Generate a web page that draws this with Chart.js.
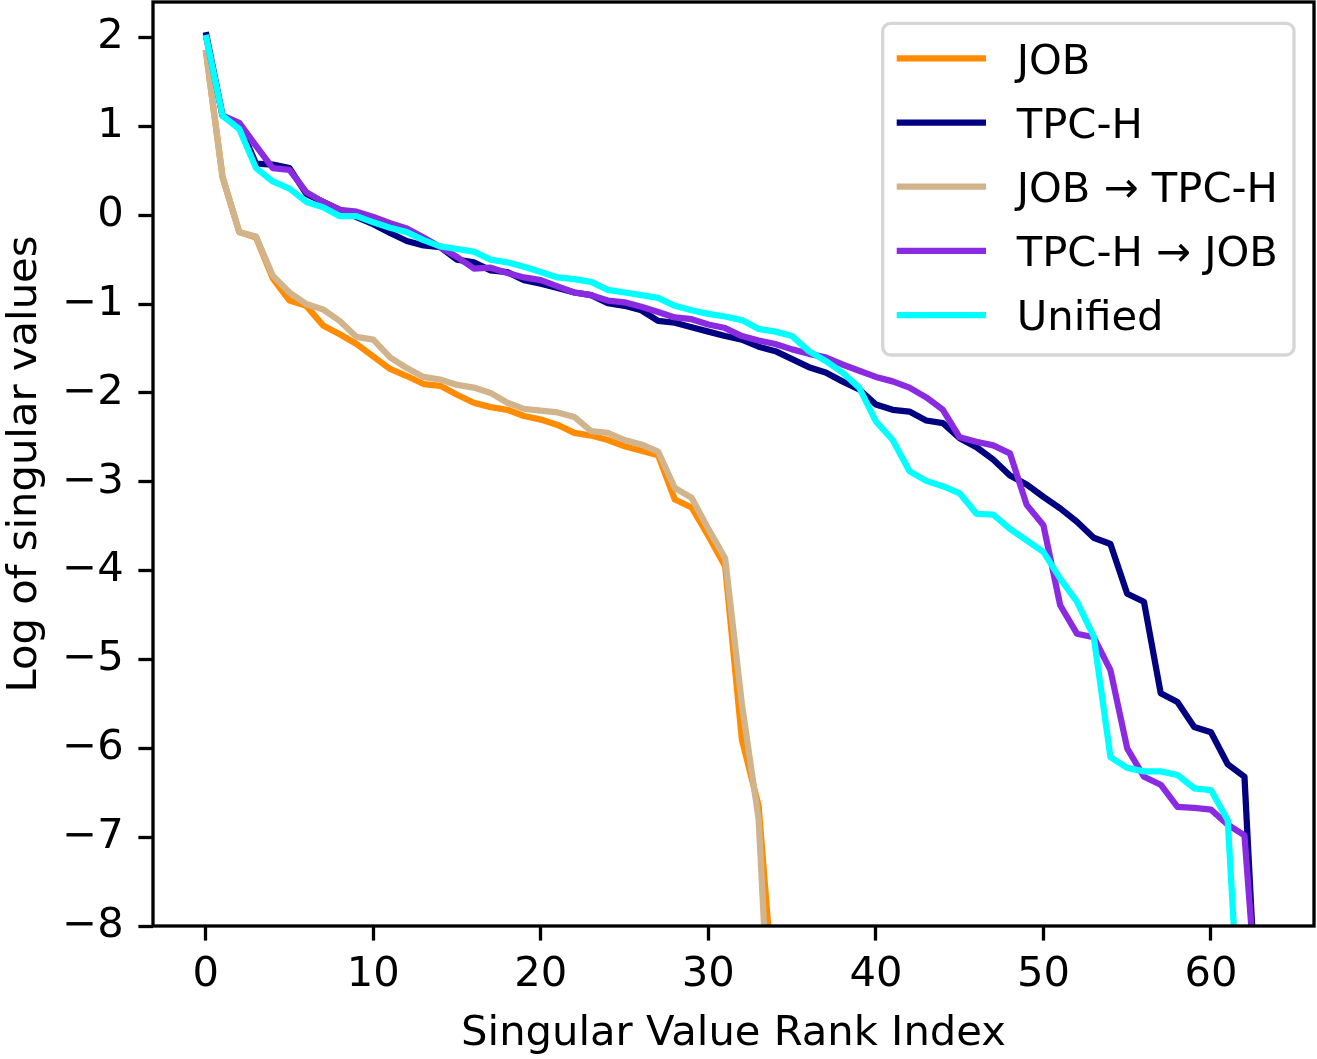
<!DOCTYPE html>
<html>
<head>
<meta charset="utf-8">
<script src="https://cdn.jsdelivr.net/npm/chart.js@4.4.1/dist/chart.umd.min.js"></script>
<style>
  html, body { margin: 0; padding: 0; background: #fff; }
  #wrap { width: 1317px; height: 1059px; }
</style>
</head>
<body>
<div id="wrap"><canvas id="myChart" width="1317" height="1059"></canvas></div>
<script>
// series names and colours
let seriesNames = ['JOB', 'TPC-H', 'JOB \u2192 TPC-H', 'TPC-H \u2192 JOB', 'Unified'];
let seriesColors = ['#ff8c00', '#000080', '#d2b48c', '#8a2be2', '#00ffff'];

// log singular values (index = rank)
let jobVals = [
  1.86, 0.43, -0.19, -0.25, -0.71, -0.96, -1.02, -1.24, -1.34, -1.45,
  -1.59, -1.73, -1.81, -1.90, -1.92, -2.02, -2.11, -2.16, -2.19, -2.26,
  -2.30, -2.36, -2.45, -2.48, -2.53, -2.60, -2.65, -2.70, -3.20, -3.29,
  -3.61, -3.95, -5.90, -6.65, -9.0
];
let tpchVals = [
  2.06, 1.12, 1.02, 0.58, 0.57, 0.53, 0.24, 0.15, 0.06, -0.02,
  -0.10, -0.20, -0.29, -0.34, -0.36, -0.50, -0.53, -0.62, -0.64, -0.73,
  -0.77, -0.82, -0.87, -0.90, -0.99, -1.02, -1.07, -1.19, -1.21, -1.26,
  -1.31, -1.36, -1.40, -1.48, -1.53, -1.62, -1.71, -1.77, -1.87, -1.96,
  -2.13, -2.19, -2.21, -2.31, -2.34, -2.51, -2.61, -2.75, -2.93, -3.03,
  -3.17, -3.30, -3.45, -3.63, -3.70, -4.26, -4.35, -5.38, -5.48, -5.76,
  -5.82, -6.18, -6.32, -10.0
];
let jobToTpchVals = [
  1.86, 0.43, -0.19, -0.24, -0.68, -0.87, -1.00, -1.06, -1.19, -1.37,
  -1.40, -1.60, -1.72, -1.82, -1.85, -1.91, -1.94, -2.00, -2.11, -2.18,
  -2.20, -2.22, -2.27, -2.43, -2.45, -2.53, -2.58, -2.66, -3.07, -3.18,
  -3.53, -3.86, -5.50, -6.80, -10.5
];
let tpchToJobVals = [
  2.03, 1.12, 1.04, 0.78, 0.53, 0.51, 0.26, 0.15, 0.06, 0.04,
  -0.02, -0.09, -0.15, -0.25, -0.36, -0.47, -0.60, -0.59, -0.65, -0.70,
  -0.73, -0.80, -0.87, -0.90, -0.96, -0.98, -1.03, -1.09, -1.15, -1.17,
  -1.23, -1.27, -1.36, -1.41, -1.45, -1.51, -1.56, -1.60, -1.68, -1.75,
  -1.82, -1.87, -1.94, -2.05, -2.19, -2.50, -2.55, -2.59, -2.68, -3.26,
  -3.49, -4.39, -4.71, -4.75, -5.12, -6.00, -6.32, -6.41, -6.66, -6.67,
  -6.69, -6.86, -6.98, -9.5
];
let unifiedVals = [
  2.03, 1.12, 0.97, 0.53, 0.38, 0.30, 0.15, 0.09, -0.01, -0.01,
  -0.08, -0.14, -0.19, -0.28, -0.35, -0.38, -0.41, -0.50, -0.53, -0.58,
  -0.64, -0.70, -0.72, -0.75, -0.84, -0.87, -0.90, -0.93, -1.02, -1.07,
  -1.11, -1.14, -1.18, -1.28, -1.31, -1.36, -1.53, -1.64, -1.77, -1.94,
  -2.32, -2.53, -2.88, -2.99, -3.05, -3.13, -3.36, -3.37, -3.53, -3.66,
  -3.79, -4.09, -4.35, -4.74, -6.10, -6.22, -6.26, -6.26, -6.30, -6.45,
  -6.47, -6.81, -10.1
];

let xTicks = [0, 10, 20, 30, 40, 50, 60];
let yTicks = [-8, -7, -6, -5, -4, -3, -2, -1, 0, 1, 2];

let allVals = [jobVals, tpchVals, jobToTpchVals, tpchToJobVals, unifiedVals];

const FONT = "'DejaVu Sans', sans-serif";
const FS = 41.7;

function toPoints(vals) {
  return vals.map((v, i) => ({ x: i, y: v }));
}

function fmt(v) {
  return v < 0 ? '\u2212' + Math.abs(v) : String(v);
}

// axes box + legend like matplotlib
const framePlugin = {
  id: 'frame',
  afterDraw(chart) {
    const ctx = chart.ctx;
    const a = chart.chartArea;
    ctx.save();
    ctx.strokeStyle = '#000';
    ctx.lineWidth = 3.3;
    ctx.strokeRect(a.left, a.top, a.right - a.left, a.bottom - a.top);

    // legend box
    const bx = 882.7, by = 23.3, bw = 1294 - 882.7, bh = 355 - 23.3;
    ctx.beginPath();
    ctx.roundRect(bx, by, bw, bh, 8);
    ctx.fillStyle = 'rgba(255,255,255,0.8)';
    ctx.fill();
    ctx.strokeStyle = '#d6d6d6';
    ctx.lineWidth = 3.3;
    ctx.stroke();

    ctx.font = FS + 'px ' + FONT;
    ctx.textAlign = 'left';
    ctx.textBaseline = 'alphabetic';
    seriesNames.forEach((name, k) => {
      const cy = 58.3 + k * 64.2;
      ctx.beginPath();
      ctx.moveTo(896.7, cy);
      ctx.lineTo(986, cy);
      ctx.strokeStyle = seriesColors[k];
      ctx.lineWidth = 6.25;
      ctx.lineCap = 'butt';
      ctx.stroke();
      ctx.fillStyle = '#000';
      ctx.fillText(name, 1016.7, cy + 15.2);
    });
    ctx.restore();
  }
};

var chart = document.getElementById('myChart').getContext('2d');
var myChart = new Chart(chart, {
  type: 'line',
  data: {
    datasets: allVals.map((vals, k) => ({
      label: seriesNames[k],
      data: toPoints(vals),
      borderColor: seriesColors[k],
      backgroundColor: seriesColors[k],
      borderWidth: 6.25,
      borderJoinStyle: 'round',
      borderCapStyle: 'butt',
      pointRadius: 0,
      tension: 0,
      fill: false,
      order: allVals.length - k,
    })),
  },
  options: {
    responsive: false,
    animation: false,
    devicePixelRatio: 1,
    layout: { padding: { top: 2, right: 3, left: 0, bottom: 0 } },
    plugins: {
      legend: { display: false },
      tooltip: { enabled: false },
    },
    scales: {
      x: {
        type: 'linear',
        min: -3.15,
        max: 66.15,
        afterBuildTicks: (s) => { s.ticks = xTicks.map(v => ({ value: v })); },
        afterFit: (s) => {
          s.height = 133;
          s.paddingLeft = 0;
          s.paddingRight = 0;
        },
        ticks: {
          font: { family: FONT, size: FS },
          color: '#000',
          padding: 10,
          maxRotation: 0,
          callback: (v) => fmt(v),
        },
        grid: {
          drawOnChartArea: false,
          drawTicks: true,
          tickLength: 14.6,
          tickWidth: 3.3,
          tickColor: '#000',
        },
        border: { display: false },
        title: {
          display: true,
          text: 'Singular Value Rank Index',
          font: { family: FONT, size: FS },
          color: '#000',
          padding: { top: 0, bottom: 0 },
        },
      },
      y: {
        type: 'linear',
        min: -8,
        max: 2.4,
        afterBuildTicks: (s) => { s.ticks = yTicks.map(v => ({ value: v })); },
        afterFit: (s) => {
          s.width = 153;
          s.paddingTop = 0;
          s.paddingBottom = 0;
        },
        ticks: {
          font: { family: FONT, size: FS },
          color: '#000',
          padding: 14.6,
          callback: (v) => fmt(v),
        },
        grid: {
          drawOnChartArea: false,
          drawTicks: true,
          tickLength: 14.6,
          tickWidth: 3.3,
          tickColor: '#000',
        },
        border: { display: false },
        title: {
          display: true,
          text: 'Log of singular values',
          font: { family: FONT, size: FS },
          color: '#000',
          padding: { top: 0, bottom: 0 },
        },
      },
    },
  },
  plugins: [framePlugin],
});
</script>
</body>
</html>
